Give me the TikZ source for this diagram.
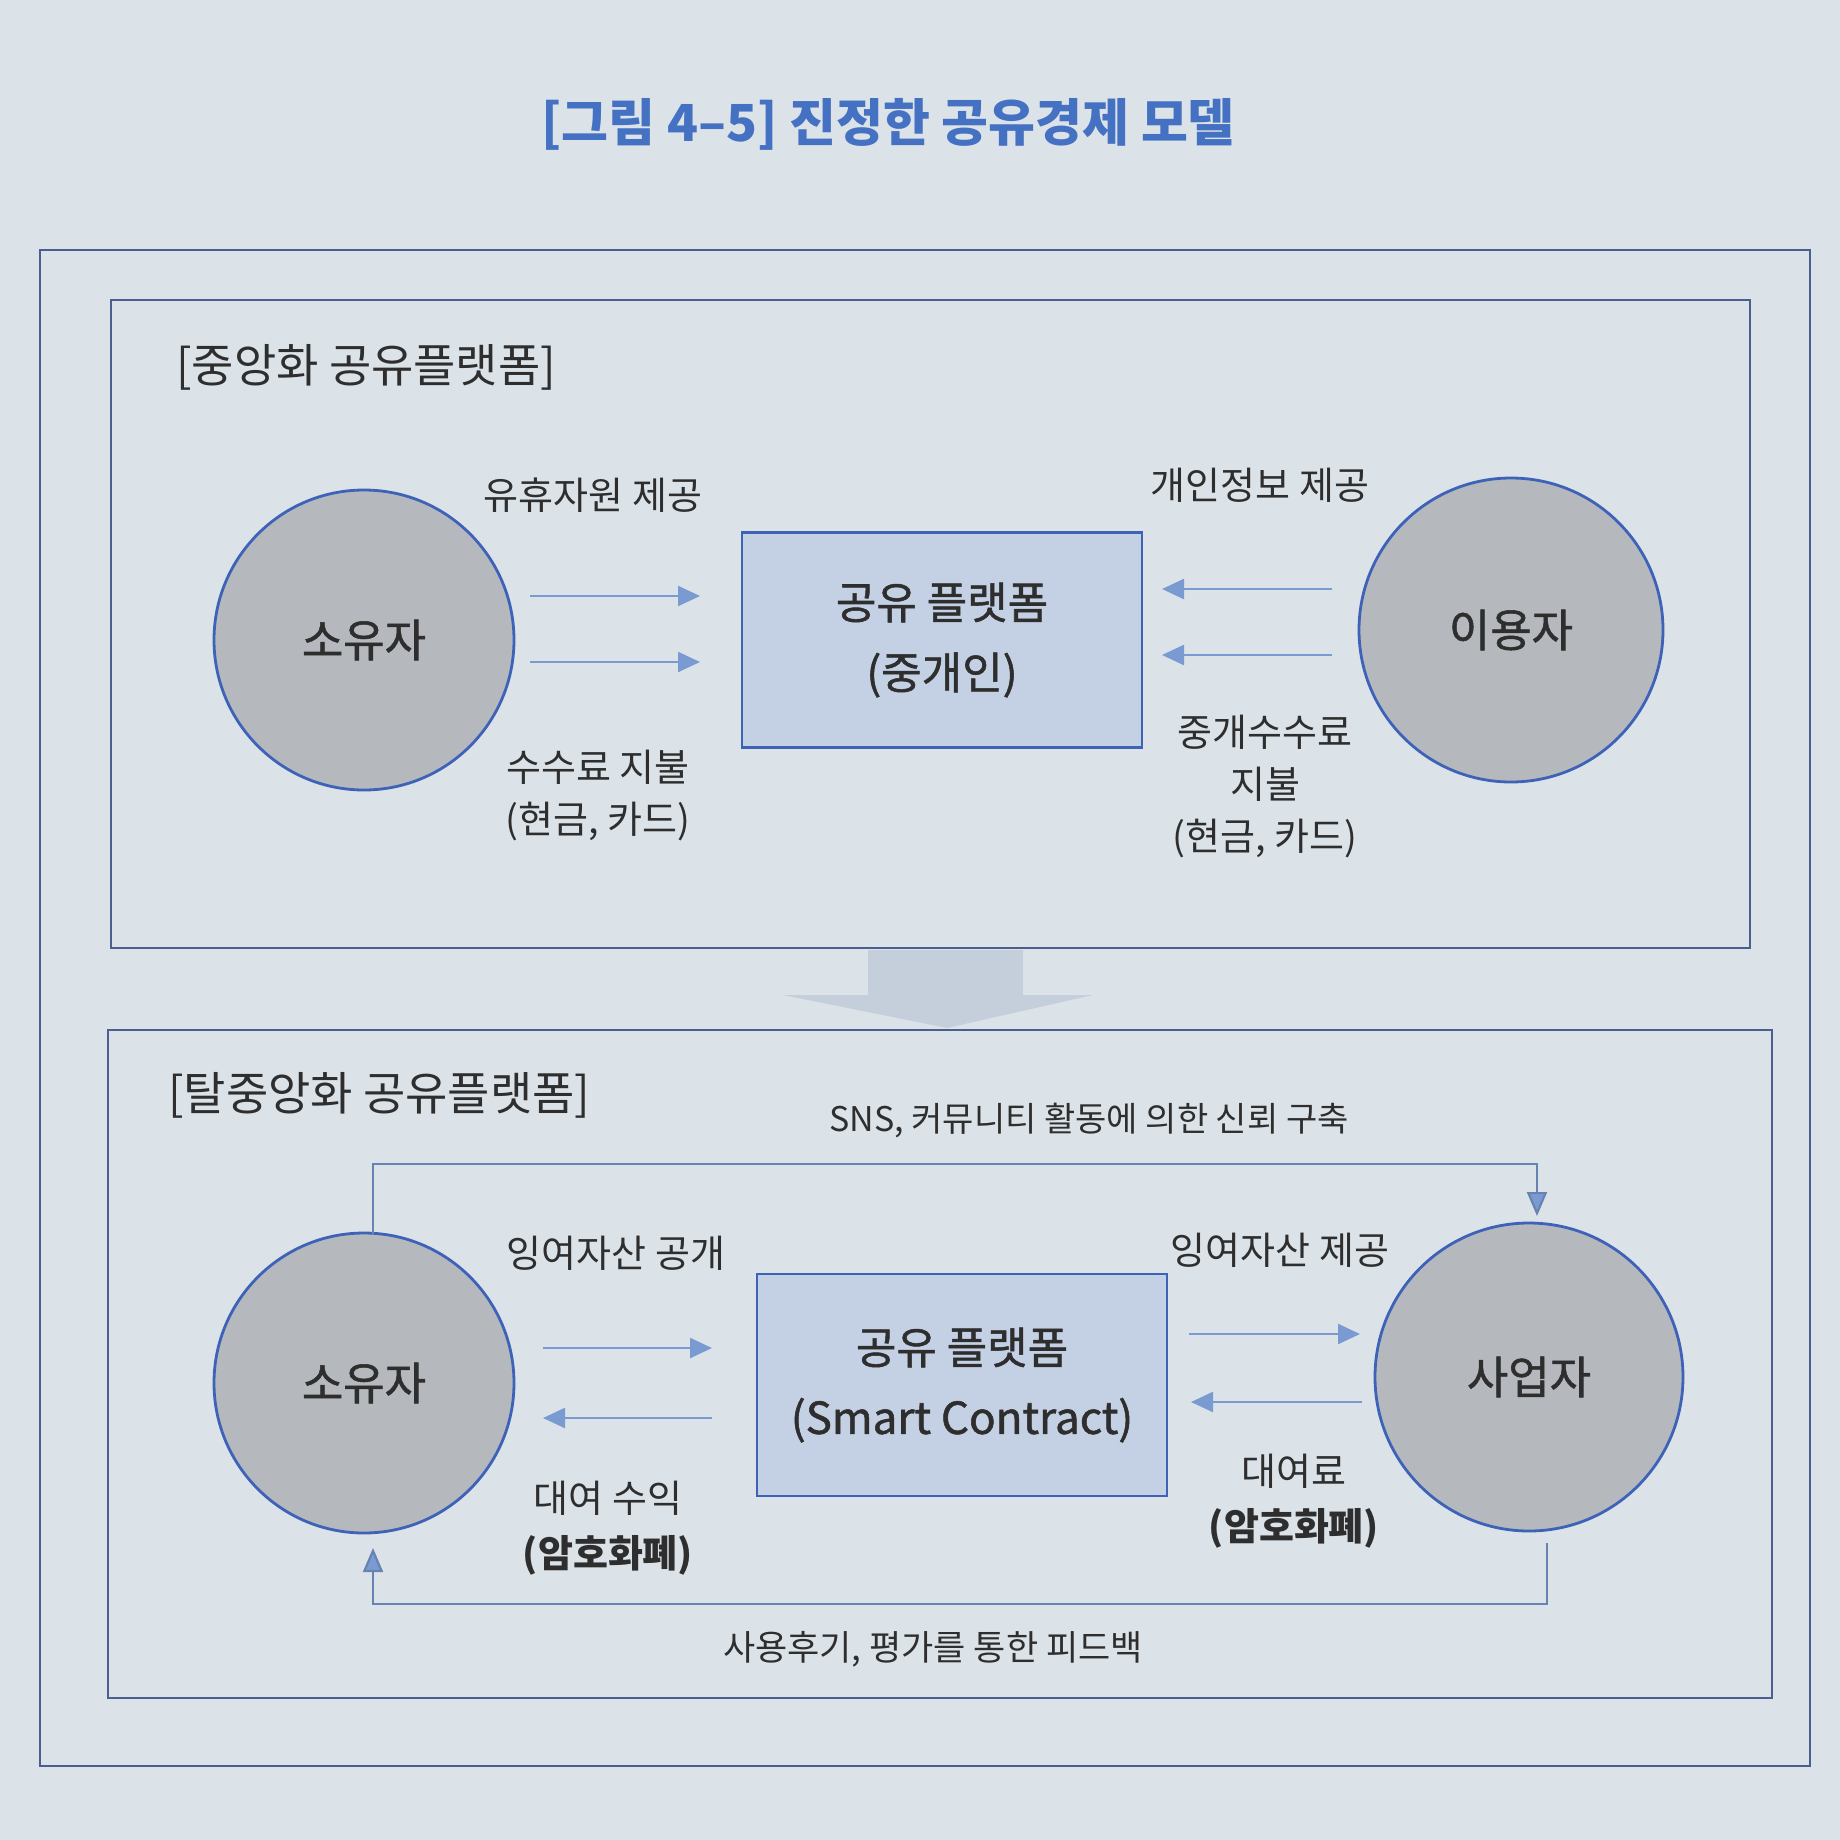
\documentclass[tikz,border=0pt]{standalone}
\usepackage{fontspec}
\setmainfont{Noto Sans CJK KR}
\newfontfamily\medfont{Noto Sans CJK KR}[FakeBold=1.2]
\usetikzlibrary{arrows.meta}
\definecolor{bgc}{HTML}{DCE3E8}
\definecolor{framec}{HTML}{4A5F90}
\definecolor{edgec}{HTML}{3D62B8}
\definecolor{circfill}{HTML}{B5B9BE}
\definecolor{boxfill}{HTML}{C4D1E4}
\definecolor{arrc}{HTML}{7A9AD2}
\definecolor{txtc}{HTML}{2E2E2E}
\definecolor{titlec}{HTML}{4571C2}
\definecolor{bigarr}{HTML}{C5CFDB}
\tikzset{
  frame/.style={draw=framec, line width=2.2pt},
  party/.style={circle, draw=edgec, line width=2.8pt, fill=circfill, inner sep=0pt, text=txtc, font=\medfont\fontsize{45}{52}\selectfont},
  platform/.style={draw=edgec, line width=2.8pt, fill=boxfill, inner sep=0pt, text=txtc, align=center, font=\medfont\fontsize{44}{70}\selectfont},
  lbl/.style={text=txtc, align=center, font=\fontsize{38}{52}\selectfont, inner sep=0pt},
  ptitle/.style={text=txtc, anchor=west, font=\fontsize{46}{52}\selectfont, inner sep=0pt},
  flow/.style={draw=arrc, line width=2.4pt, -{Triangle[length=22pt,width=20pt]}},
  fb/.style={draw=arrc!85!black, line width=2.2pt, -{Triangle[length=24pt,width=20pt, fill=arrc]}}
}
\begin{document}
\begin{tikzpicture}[x=1pt,y=-1pt]
\useasboundingbox (0,0) rectangle (1840,1840);
\fill[bgc] (0,0) rectangle (1840,1840);

% title
\node[text=titlec, font=\bfseries\fontsize{51}{56}\selectfont, inner sep=0pt] (title) at (888,124) {[그림 4–5] 진정한 공유경제 모델};

% frames
\draw[frame] (40,250) rectangle (1810,1766);
\draw[frame] (111,300) rectangle (1750,948);
\draw[frame] (108,1030) rectangle (1772,1698);

% big down arrow
\fill[bigarr] (868,950) -- (1023,950) -- (1023,995) -- (1093,995) -- (947,1028) -- (783,995) -- (868,995) -- cycle;

% ---------- top panel ----------
\node[ptitle] (t1) at (176,367) {[중앙화 공유플랫폼]};
\node[party, minimum size=300pt] (own1) at (364,640) {소유자};
\node[party, minimum size=304pt] (usr1) at (1511,630) {이용자};
\node[platform, minimum width=400pt, minimum height=215pt] (plat1) at (942,640) {공유 플랫폼\\(중개인)};

\coordinate (a1s) at (530,596); \coordinate (a1e) at (700,596);
\coordinate (a2s) at (530,662); \coordinate (a2e) at (700,662);
\coordinate (a3s) at (1332,589); \coordinate (a3e) at (1162,589);
\coordinate (a4s) at (1332,655); \coordinate (a4e) at (1162,655);
\draw[flow] (a1s) -- (a1e);
\draw[flow] (a2s) -- (a2e);
\draw[flow] (a3s) -- (a3e);
\draw[flow] (a4s) -- (a4e);

\node[lbl] (l1) at (593,495) {유휴자원 제공};
\node[lbl] (l2) at (598,795) {수수료 지불\\(현금, 카드)};
\node[lbl] (l3) at (1260,485) {개인정보 제공};
\node[lbl] (l4) at (1265,786) {중개수수료\\지불\\(현금, 카드)};

% ---------- bottom panel ----------
\node[ptitle] (t2) at (168,1095) {[탈중앙화 공유플랫폼]};
\node[party, minimum size=300pt] (own2) at (364,1383) {소유자};
\node[party, minimum size=308pt] (biz2) at (1529,1377) {사업자};
\node[platform, minimum width=410pt, minimum height=222pt] (plat2) at (962,1385) {공유 플랫폼\\(Smart Contract)};

\coordinate (b1s) at (543,1348); \coordinate (b1e) at (712,1348);
\coordinate (b2s) at (712,1418); \coordinate (b2e) at (543,1418);
\coordinate (b3s) at (1189,1334); \coordinate (b3e) at (1360,1334);
\coordinate (b4s) at (1362,1402); \coordinate (b4e) at (1191,1402);
\draw[flow] (b1s) -- (b1e);
\draw[flow] (b2s) -- (b2e);
\draw[flow] (b3s) -- (b3e);
\draw[flow] (b4s) -- (b4e);

\node[lbl] (m1) at (616,1253) {잉여자산 공개};
\node[lbl, font=\fontsize{38}{55}\selectfont] (m2) at (608,1528) {대여 수익\\\bfseries(암호화폐)};
\node[lbl] (m3) at (1280,1250) {잉여자산 제공};
\node[lbl, font=\fontsize{38}{55}\selectfont] (m4) at (1294,1501) {대여료\\\bfseries(암호화폐)};

% feedback loops
\coordinate (f1a) at (373,1235);
\coordinate (f1b) at (1537,1216);
\draw[fb] (f1a) -- (373,1164) -- (1537,1164) -- (f1b);
\node[lbl, font=\fontsize{34}{40}\selectfont] (f1l) at (1089,1121) {SNS, 커뮤니티 활동에 의한 신뢰 구축};

\coordinate (f2a) at (1547,1543);
\coordinate (f2b) at (373,1548);
\draw[fb] (f2a) -- (1547,1604) -- (373,1604) -- (f2b);
\node[lbl, font=\fontsize{35}{40}\selectfont] (f2l) at (933,1649) {사용후기, 평가를 통한 피드백};
\end{tikzpicture}
\end{document}
